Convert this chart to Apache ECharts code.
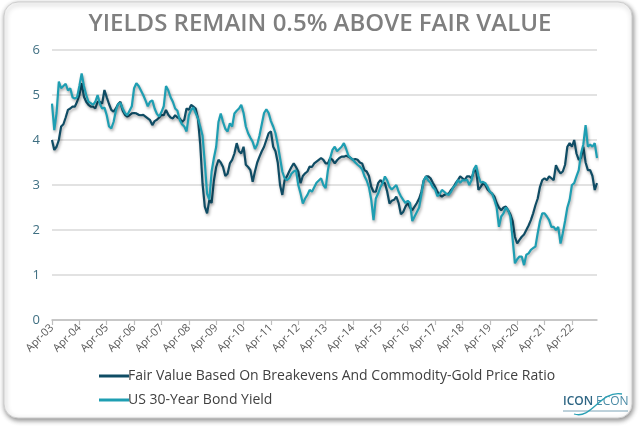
<!DOCTYPE html>
<html>
<head>
<meta charset="utf-8">
<script src="https://cdn.jsdelivr.net/npm/echarts@6/dist/echarts.min.js"></script>
<style>
html,body{margin:0;padding:0;background:#fff;}
#chart{width:640px;height:429px;}
</style>
</head>
<body>
<div id="chart"></div>
<script>
// Monthly observations, Apr-2003 .. Mar-2023
const startYear = 2003;
const monthNames = ['Jan','Feb','Mar','Apr','May','Jun','Jul','Aug','Sep','Oct','Nov','Dec'];
const nPoints = 240;

const fairValue = [
 4.0, 3.78, 3.85, 4.0, 4.3, 4.35, 4.5, 4.67, 4.7, 4.74, 4.74, 4.85,
 5.0, 5.26, 4.96, 4.85, 4.78, 4.74, 4.74, 4.7, 4.85, 4.85, 4.81, 5.11,
 4.95, 4.8, 4.67, 4.63, 4.7, 4.8, 4.85, 4.65, 4.56, 4.52, 4.55, 4.59,
 4.6, 4.59, 4.56, 4.55, 4.56, 4.52, 4.48, 4.44, 4.33, 4.42, 4.45, 4.5,
 4.56, 4.55, 4.67, 4.56, 4.5, 4.48, 4.55, 4.5, 4.48, 4.4, 4.45, 4.7,
 4.67, 4.78, 4.74, 4.7, 4.48, 3.9, 3.04, 2.52, 2.37, 2.67, 2.6, 3.1,
 3.4, 3.56, 3.5, 3.4, 3.2, 3.25, 3.48, 3.56, 3.7, 3.93, 3.75, 3.7,
 3.85, 3.45, 3.4, 3.33, 3.07, 3.3, 3.5, 3.63, 3.75, 3.85, 4.0, 4.15,
 4.19, 3.85, 3.75, 3.5, 3.0, 2.78, 3.11, 3.19, 3.3, 3.4, 3.48, 3.4,
 3.3, 3.04, 3.2, 3.26, 3.3, 3.41, 3.4, 3.48, 3.52, 3.56, 3.6, 3.56,
 3.48, 3.48, 3.6, 3.56, 3.48, 3.55, 3.6, 3.63, 3.63, 3.65, 3.63, 3.6,
 3.56, 3.58, 3.56, 3.5, 3.48, 3.33, 3.3, 3.2, 2.96, 2.85, 2.85, 3.04,
 3.11, 3.05, 3.04, 2.85, 2.59, 2.65, 2.67, 2.74, 2.6, 2.35, 2.4, 2.52,
 2.6, 2.5, 2.44, 2.52, 2.6, 2.7, 2.85, 3.1, 3.19, 3.19, 3.15, 3.05,
 2.96, 2.85, 2.78, 2.74, 2.78, 2.8, 2.81, 2.89, 2.95, 3.04, 3.11, 3.19,
 3.15, 3.11, 3.19, 3.19, 3.15, 3.3, 3.33, 2.89, 2.96, 3.04, 3.0, 2.9,
 2.85, 2.81, 2.74, 2.6, 2.5, 2.44, 2.5, 2.52, 2.44, 2.35, 2.2, 1.85,
 1.7, 1.78, 1.85, 1.9, 2.0, 2.1, 2.22, 2.37, 2.55, 2.7, 2.96, 3.11,
 3.15, 3.11, 3.19, 3.15, 3.11, 3.44, 3.33, 3.26, 3.3, 3.45, 3.85, 3.93,
 3.85, 4.0, 3.7, 3.56, 3.6, 3.85, 3.5, 3.33, 3.33, 3.2, 2.89, 3.04
];

const us30Yield = [
 4.81, 4.22, 4.6, 5.3, 5.15, 5.2, 5.25, 5.1, 5.15, 4.95, 4.92, 4.95,
 5.2, 5.48, 5.2, 5.0, 4.85, 4.82, 4.78, 4.85, 5.0, 4.8, 4.7, 4.72,
 4.55, 4.3, 4.26, 4.4, 4.65, 4.8, 4.82, 4.7, 4.6, 4.55, 4.65, 4.75,
 5.15, 5.26, 5.2, 5.1, 5.0, 4.88, 4.75, 4.85, 4.88, 4.7, 4.58, 4.52,
 4.62, 4.75, 5.2, 5.1, 4.95, 4.85, 4.7, 4.65, 4.45, 4.35, 4.3, 4.19,
 4.55, 4.67, 4.72, 4.6, 4.48, 4.3, 4.1, 3.5, 2.81, 2.67, 3.3, 3.6,
 3.85, 4.4, 4.59, 4.4, 4.25, 4.19, 4.37, 4.3, 4.59, 4.65, 4.7, 4.78,
 4.6, 4.3, 4.15, 4.05, 3.96, 3.8, 3.9, 4.1, 4.35, 4.6, 4.68, 4.6,
 4.42, 4.3, 4.15, 3.9, 3.6, 3.3, 3.15, 3.11, 3.15, 3.25, 3.3, 3.33,
 3.0, 2.81, 2.59, 2.7, 2.78, 2.89, 2.85, 2.95, 3.05, 3.1, 3.15, 3.0,
 2.93, 3.33, 3.6, 3.78, 3.85, 3.75, 3.8, 3.85, 3.93, 3.8, 3.65, 3.6,
 3.56, 3.5, 3.45, 3.41, 3.35, 3.2, 3.1, 2.95, 2.67, 2.22, 2.7, 2.81,
 2.95, 3.04, 3.19, 3.1, 2.96, 2.9, 2.95, 3.0, 2.85, 2.75, 2.67, 2.6,
 2.65, 2.6, 2.2, 2.3, 2.4, 2.5, 2.8, 3.1, 3.19, 3.1, 3.05, 2.95,
 2.9, 2.75, 2.8, 2.89, 2.85, 2.8, 2.78, 2.85, 2.95, 3.0, 3.11, 3.05,
 3.11, 3.1, 3.12, 3.0, 3.11, 3.35, 3.44, 3.2, 3.05, 3.07, 3.04, 2.96,
 2.85, 2.81, 2.67, 2.5, 2.07, 2.3, 2.37, 2.5, 2.44, 2.3, 1.8, 1.26,
 1.35, 1.41, 1.41, 1.22, 1.45, 1.48, 1.56, 1.6, 1.63, 1.93, 2.2, 2.37,
 2.37, 2.3, 2.22, 2.07, 2.07, 2.0, 2.07, 1.7, 1.93, 2.2, 2.5, 2.67,
 3.0, 3.04, 3.19, 3.33, 3.7, 3.9, 4.33, 3.85, 3.9, 3.85, 3.93, 3.6
];

const seriesNames = ['Fair Value Based On Breakevens And Commodity-Gold Price Ratio', 'US 30-Year Bond Yield'];
const yTicks = [0, 1, 2, 3, 4, 5, 6];
const titleText = 'YIELDS REMAIN 0.5% ABOVE FAIR VALUE';

const categories = [];
for (let i = 0; i < nPoints; i++) {
  const mi = 3 + i;
  const y = startYear + Math.floor(mi / 12);
  categories.push(monthNames[mi % 12] + '-' + String(y % 100).padStart(2, '0'));
}

const chart = echarts.init(document.getElementById('chart'), null, {renderer: 'canvas'});
const FONT = '"Open Sans", "Liberation Sans", sans-serif';
const shadow = {shadowColor: 'rgba(0,0,0,0.35)', shadowBlur: 3, shadowOffsetX: 1, shadowOffsetY: 2};

chart.setOption({
  backgroundColor: '#ffffff',
  animation: false,
  title: {
    text: titleText,
    left: 'center',
    top: 7,
    textStyle: {color: '#7f7f7f', fontSize: 24, fontWeight: 600, fontFamily: FONT}
  },
  graphic: [
    {type: 'rect', z: -10, shape: {x: 4, y: 2, width: 628, height: 416, r: 14},
     style: {fill: '#ffffff', stroke: '#cfcfcf', lineWidth: 1, shadowColor: 'rgba(0,0,0,0.45)', shadowBlur: 5, shadowOffsetX: 1, shadowOffsetY: 2}},
    {type: 'text', left: 563, top: 396, z: 10,
     style: {text: 'ICON', fill: '#2f6684', font: '600 12px "Open Sans", sans-serif'}},
    {type: 'text', left: 596, top: 396, z: 10,
     style: {text: 'ECON', fill: '#4a8aa5', font: '400 12px "Open Sans", sans-serif'}},
    {type: 'line', z: 10, shape: {x1: 563, y1: 411, x2: 628, y2: 411}, style: {stroke: '#5a8ea5', lineWidth: 0.8}},
    {type: 'bezierCurve', z: 11,
     shape: {x1: 574, y1: 414, x2: 622, y2: 394, cpx1: 592, cpy1: 420, cpx2: 600, cpy2: 390},
     style: {stroke: '#2aa0b4', lineWidth: 1.3, fill: null}}
  ],
  legend: {
    orient: 'vertical',
    left: 94,
    top: 364,
    itemGap: 10,
    itemWidth: 30,
    itemHeight: 3,
    icon: 'rect',
    textStyle: {color: '#404040', fontSize: 14, fontFamily: FONT, padding: [0, 0, 0, -6]},
    data: seriesNames
  },
  grid: {left: 52, right: 43, top: 50, bottom: 109, containLabel: false},
  xAxis: {
    type: 'category',
    data: categories,
    boundaryGap: false,
    axisLine: {lineStyle: {color: '#bfbfbf', width: 1.5}},
    axisTick: {show: true, interval: 11, length: 5, lineStyle: {color: '#bfbfbf', width: 1.2}},
    axisLabel: {interval: 11, rotate: 45, color: '#595959', fontSize: 11, fontFamily: FONT, margin: 6},
    splitLine: {show: false}
  },
  yAxis: {
    type: 'value',
    min: 0, max: 6, interval: 1,
    axisLine: {show: false},
    axisTick: {show: false},
    axisLabel: {color: '#3f6f82', fontSize: 13, fontFamily: FONT, margin: 12,
      formatter: function (v) { return yTicks.indexOf(v) >= 0 ? String(v) : ''; }},
    splitLine: {lineStyle: {color: '#d9d9d9', width: 1.5}}
  },
  series: [
    {name: seriesNames[0], type: 'line', data: fairValue, showSymbol: false, symbol: 'none',
     color: '#0f4c64', lineStyle: Object.assign({width: 2.2, color: '#0f4c64'}, shadow)},
    {name: seriesNames[1], type: 'line', data: us30Yield, showSymbol: false, symbol: 'none',
     color: '#1e9eb2', lineStyle: Object.assign({width: 2.2, color: '#1e9eb2'}, shadow)}
  ]
});
</script>
</body>
</html>
